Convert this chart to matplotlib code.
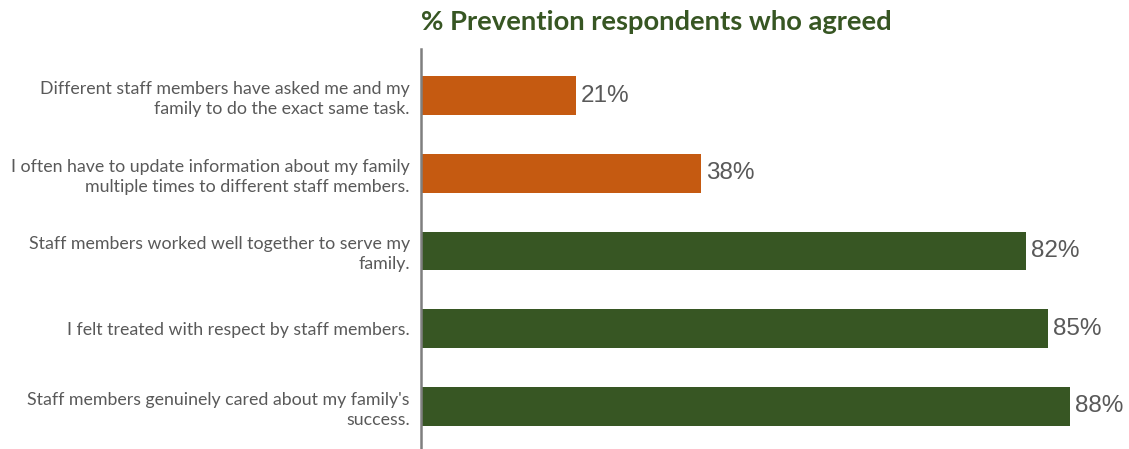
import matplotlib
matplotlib.use("Agg")
import matplotlib.pyplot as plt

# ======================
# DATA
# ======================
labels = [
    "Different staff members have asked me and my\nfamily to do the exact same task.",
    "I often have to update information about my family\nmultiple times to different staff members.",
    "Staff members worked well together to serve my\nfamily.",
    "I felt treated with respect by staff members.",
    "Staff members genuinely cared about my family's\nsuccess.",
]
values = [21, 38, 82, 85, 88]
colors = ["#C55A11", "#C55A11", "#375623", "#375623", "#375623"]

# ======================
# PLOT
# ======================
fig = plt.figure(figsize=(11.29, 4.49), dpi=100)
ax = fig.add_axes([421 / 1129, 0.0, 1 - 421 / 1129, 1 - 49 / 449])

pos = list(range(len(values)))
ax.barh(pos, values, height=0.5, color=colors)

for p, v in zip(pos, values):
    ax.text(v + 0.7, p, f"{v}%", va="center", ha="left",
            fontsize=17.5, color="#595959", family="Liberation Sans")

ax.set_xlim(0, 96)
ax.set_ylim(4.55, -0.6)
ax.set_yticks(pos)
ax.set_yticklabels(labels, fontsize=12.8, color="#595959", family="Lato",
                   linespacing=1.3)
ax.tick_params(axis="y", length=0, pad=8)
ax.set_xticks([])

for s in ["top", "right", "bottom"]:
    ax.spines[s].set_visible(False)
ax.spines["left"].set_color("#7F7F7F")
ax.spines["left"].set_linewidth(1.8)

fig.text(421 / 1129, 1 - 22 / 449, "% Prevention respondents who agreed",
         ha="left", va="center", fontsize=19.7, fontweight="bold",
         color="#375623", family="Lato")

fig.savefig("out.png", dpi=100)
